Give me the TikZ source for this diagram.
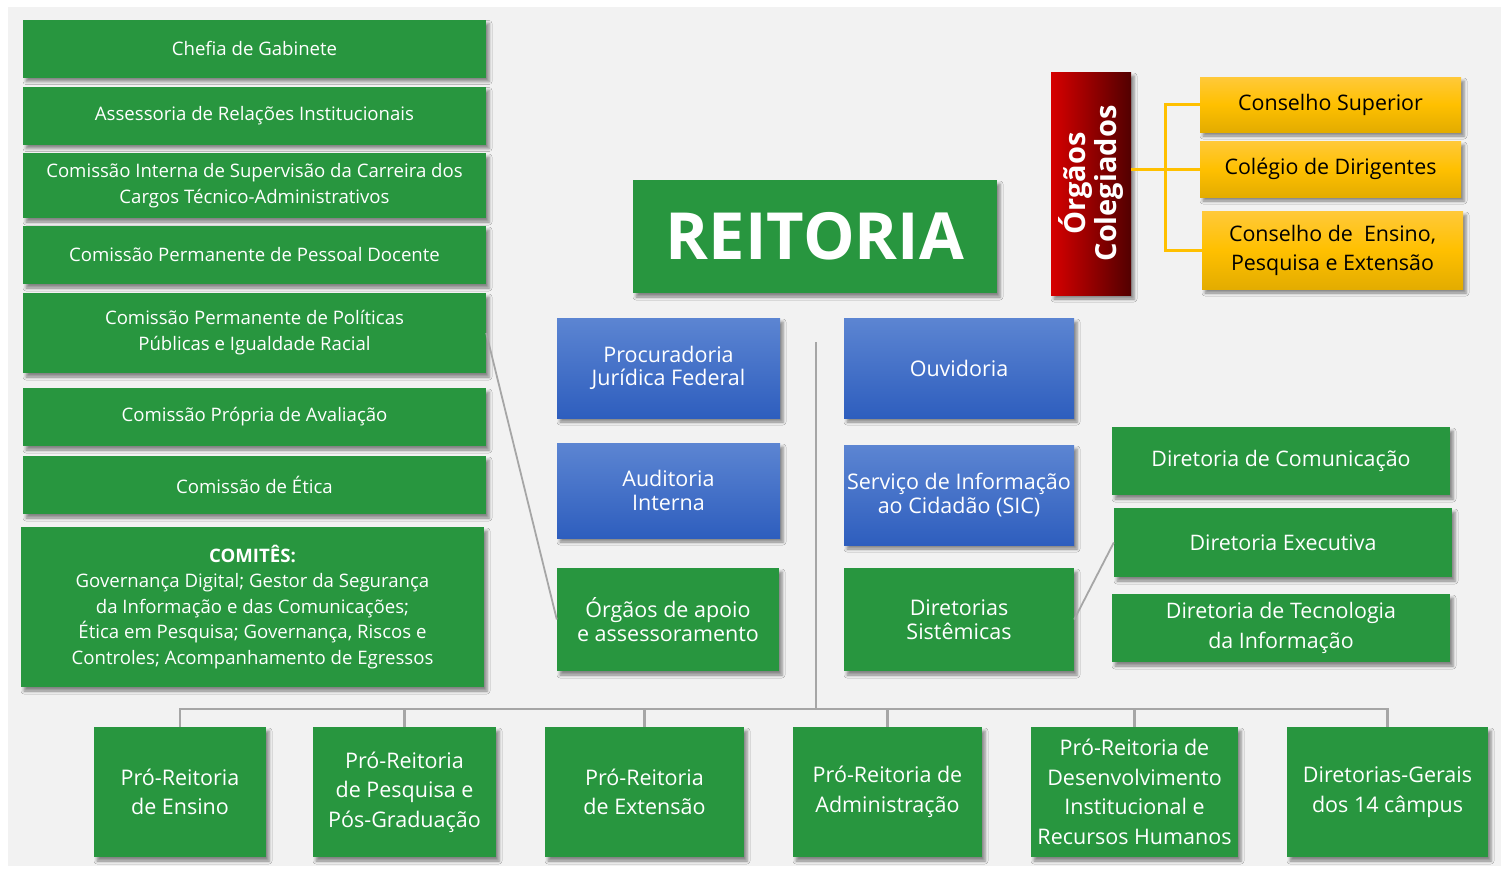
\documentclass[tikz,border=0pt]{standalone}
\usepackage{fontspec}
\setmainfont{Open Sans}
\usetikzlibrary{shadows,shadows.blur}
\definecolor{bgc}{HTML}{F2F2F2}
\definecolor{gr}{HTML}{28963F}
\definecolor{bltop}{HTML}{5C85D2}
\definecolor{blbot}{HTML}{2E5EBE}
\definecolor{yltop}{HTML}{FFC93A}
\definecolor{ylmid}{HTML}{FFC000}
\definecolor{ylbot}{HTML}{E3AC00}
\definecolor{rdl}{HTML}{D60000}
\definecolor{rdr}{HTML}{520000}
\definecolor{ln}{HTML}{A6A6A6}
\definecolor{yln}{HTML}{FFC000}
\tikzset{
  shad/.style={blur shadow={shadow xshift=3pt,shadow yshift=-4pt,shadow blur radius=3pt,shadow opacity=45}},
  box/.style={rectangle,inner sep=0pt,align=center,text=white,shad},
  gbox/.style={box,fill=gr},
  leftbox/.style={gbox,minimum width=463pt,font=\fontsize{18.6}{26}\selectfont},
  bbox/.style={box,top color=bltop,bottom color=blbot,font=\fontsize{21.5}{23.5}\selectfont},
  mbox/.style={gbox,font=\fontsize{21.5}{23.5}\selectfont},
  dbox/.style={gbox,minimum width=338pt,font=\fontsize{21.4}{30}\selectfont},
  pbox/.style={gbox,minimum height=130pt,font=\fontsize{21.5}{29.5}\selectfont},
  ybox/.style={box,text=black,minimum width=261pt,font=\fontsize{21.4}{29}\selectfont,
    top color=yltop,bottom color=ylbot,middle color=ylmid},
  gline/.style={draw=ln,line width=2.5pt},
  yline/.style={draw=yln,line width=3pt},
}
\begin{document}
\begin{tikzpicture}[x=1pt,y=-1pt]
\useasboundingbox (0,0) rectangle (1503,870);
\fill[white] (0,0) rectangle (1503,870);
\fill[bgc] (8,7) rectangle (1501,866);
% left column
\node[leftbox,minimum height=58pt] (c1) at (254.5,48.5) {Chefia de Gabinete};
\node[leftbox,minimum height=58pt] (c2) at (254.5,115.5) {Assessoria de Relações Institucionais};
\node[leftbox,minimum height=65pt] (c3) at (254.5,185.5) {Comissão Interna de Supervisão da Carreira dos\\Cargos Técnico-Administrativos};
\node[leftbox,minimum height=58pt] (c4) at (254.5,255) {Comissão Permanente de Pessoal Docente};
\node[leftbox,minimum height=80pt] (c5) at (254.5,333) {Comissão Permanente de Políticas\\Públicas e Igualdade Racial};
\node[leftbox,minimum height=58pt] (c6) at (254.5,417) {Comissão Própria de Avaliação};
\node[leftbox,minimum height=58pt] (c7) at (254.5,485) {Comissão de Ética};
\node[leftbox,minimum height=160pt,font=\fontsize{18.6}{25.5}\selectfont] (c8) at (252.5,607) {\textbf{COMITÊS:}\\Governança Digital; Gestor da Segurança\\da Informação e das Comunicações;\\Ética em Pesquisa; Governança, Riscos e\\Controles; Acompanhamento de Egressos};
% reitoria
\node[gbox,minimum width=364pt,minimum height=113pt,font=\fontsize{65}{68}\selectfont\bfseries] (rei) at (815,236.5) {REITORIA};
% orgaos colegiados
\node[box,minimum width=80pt,minimum height=223pt,left color=rdl,right color=rdr] (red) at (1091,183.5) {};
\node[rotate=90,text=white,align=center,font=\fontsize{29}{31}\selectfont\bfseries] (redt) at (red.center) {Órgãos\\Colegiados};
\node[ybox,minimum height=55pt] (y1) at (1330.5,104.5) {Conselho Superior};
\node[ybox,minimum height=56pt] (y2) at (1330.5,169) {Colégio de Dirigentes};
\node[ybox,minimum height=78pt] (y3) at (1332.5,250) {Conselho de\ \ Ensino,\\Pesquisa e Extensão};
\coordinate (yt) at (1165,169);
\draw[yline] (y1.west) -| (yt) |- (y3.west);
\draw[yline] (red.east |- y2.west) -- (y2.west);
% blue
\node[bbox,minimum width=223pt,minimum height=100pt] (b1) at (668.5,368) {Procuradoria\\Jurídica Federal};
\node[bbox,minimum width=223pt,minimum height=95pt] (b2) at (668.5,490.5) {Auditoria\\Interna};
\node[bbox,minimum width=230pt,minimum height=100pt] (b3) at (959,368) {Ouvidoria};
\node[bbox,minimum width=230pt,minimum height=100pt] (b4) at (959,495) {Serviço de Informação\\ao Cidadão (SIC)};
\node[mbox,minimum width=222pt,minimum height=103pt] (g1) at (668,619.5) {Órgãos de apoio\\e assessoramento};
\node[mbox,minimum width=230pt,minimum height=103pt] (g2) at (959,619.5) {Diretorias\\Sistêmicas};
% right diretorias
\node[dbox,minimum height=68pt] (d1) at (1281,461) {Diretoria de Comunicação};
\node[dbox,minimum height=69pt] (d2) at (1283,542.5) {Diretoria Executiva};
\node[dbox,minimum height=68pt] (d3) at (1281,628) {Diretoria de Tecnologia\\da Informação};
\draw[ln,line width=1.8pt] (c5.east) -- (g1.west);
\draw[ln,line width=1.8pt] (g2.east) -- (d2.west);
% bottom
\node[pbox,minimum width=172pt] (p1) at (180,792) {Pró-Reitoria\\de Ensino};
\node[pbox,minimum width=183pt] (p2) at (404.5,792) {Pró-Reitoria\\de Pesquisa e\\Pós-Graduação};
\node[pbox,minimum width=199pt] (p3) at (644.5,792) {Pró-Reitoria\\de Extensão};
\node[pbox,minimum width=189pt] (p4) at (887.5,792) {Pró-Reitoria de\\Administração};
\node[pbox,minimum width=207pt] (p5) at (1134.5,792) {Pró-Reitoria de\\Desenvolvimento\\Institucional e\\Recursos Humanos};
\node[pbox,minimum width=201pt] (p6) at (1387.5,792) {Diretorias-Gerais\\dos 14 câmpus};
\coordinate (vt) at (816,342);
\coordinate (bus) at (816,709);
\draw[gline] (vt) -- (bus);
\foreach \p in {p1,p2,p3,p4,p5,p6} {\draw[gline] (\p.north) |- (bus);}
\end{tikzpicture}
\end{document}
